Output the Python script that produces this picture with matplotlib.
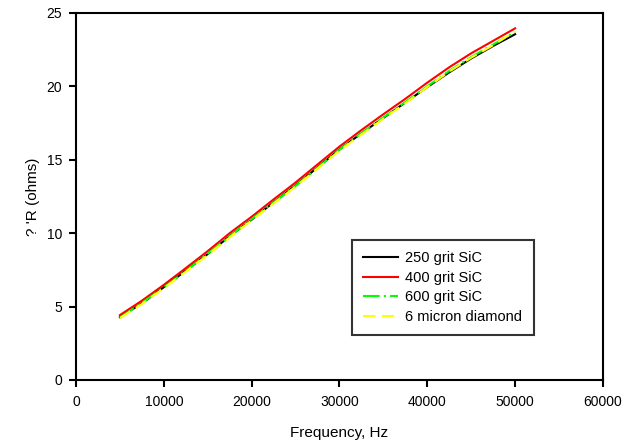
import matplotlib
matplotlib.use("Agg")
import matplotlib.pyplot as plt

plt.rcParams['font.family'] = ['Liberation Sans', 'DejaVu Sans']

freq = [5000, 7500, 10000, 12500, 15000, 17500, 20000, 22500, 25000, 27500,
        30000, 32500, 35000, 37500, 40000, 42500, 45000, 47500, 50000]

r_250 = [4.28, 5.22, 6.32, 7.45, 8.58, 9.80, 10.92, 12.10, 13.25, 14.48,
         15.70, 16.80, 17.85, 18.90, 19.95, 20.95, 21.90, 22.75, 23.55]
r_400 = [4.42, 5.40, 6.48, 7.62, 8.78, 10.00, 11.12, 12.30, 13.45, 14.68,
         15.90, 17.02, 18.10, 19.15, 20.25, 21.30, 22.25, 23.10, 23.95]
r_600 = [4.25, 5.25, 6.30, 7.42, 8.60, 9.78, 10.95, 12.08, 13.22, 14.45,
         15.68, 16.80, 17.88, 18.92, 20.00, 21.05, 22.00, 22.85, 23.70]
r_6um = [4.22, 5.18, 6.26, 7.38, 8.52, 9.72, 10.88, 12.02, 13.18, 14.40,
         15.62, 16.72, 17.80, 18.85, 19.95, 21.00, 21.95, 22.80, 23.75]

labels = ['250 grit SiC', '400 grit SiC', '600 grit SiC', '6 micron diamond']
xticks = [0, 10000, 20000, 30000, 40000, 50000, 60000]
yticks = [0, 5, 10, 15, 20, 25]

fig = plt.figure(figsize=(6.36, 4.46), dpi=100)
ax = fig.add_axes([0.1195, 0.148, 0.8285, 0.823])

ax.plot(freq, r_250, color='black', lw=1.5, label=labels[0])
ax.plot(freq, r_400, color='#ff0000', lw=1.5, label=labels[1])
ax.plot(freq, r_600, color='#00ff00', lw=1.5, dashes=(8, 2, 1, 2), label=labels[2])
ax.plot(freq, r_6um, color='#ffff00', lw=1.5, dashes=(6, 3), label=labels[3])

ax.set_xlim(0, 60000)
ax.set_ylim(0, 25)
ax.set_xticks(xticks)
ax.set_yticks(yticks)
ax.set_xticklabels([str(v) for v in xticks])
ax.tick_params(direction='out', length=5, width=1.5, labelsize=10)
ax.tick_params(axis='x', pad=6)
ax.tick_params(axis='y', pad=5)

for s in ax.spines.values():
    s.set_linewidth(1.5)

ax.set_xlabel('Frequency, Hz', fontsize=11, labelpad=12)
ax.set_ylabel("? 'R (ohms)", fontsize=11, labelpad=5)

leg = ax.legend(loc='lower left', bbox_to_anchor=(0.524, 0.123, 0.345, 0.25),
                mode='expand', fontsize=10.5, frameon=True, fancybox=False,
                handlelength=2.4, handletextpad=0.5, borderpad=0.75,
                labelspacing=0.38, borderaxespad=0)
leg.get_frame().set_edgecolor('black')
leg.get_frame().set_linewidth(1.5)

fig.savefig('out.png', dpi=100)
